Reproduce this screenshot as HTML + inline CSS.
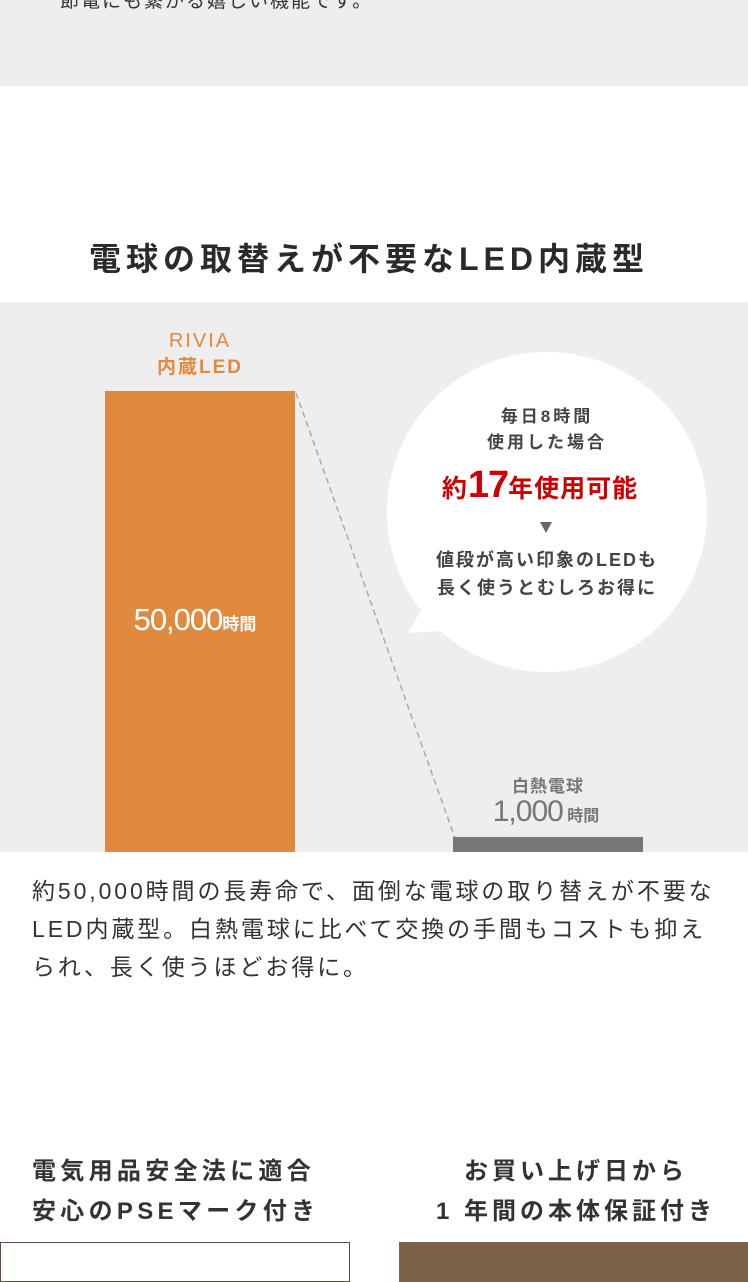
<!DOCTYPE html>
<html><head><meta charset="utf-8"><style>
*{margin:0;padding:0;box-sizing:border-box}
body{width:748px;height:1280px;position:relative;background:#fff;font-family:"Liberation Sans","Noto Sans CJK JP",sans-serif;color:#333;overflow:hidden}
.a{position:absolute;white-space:nowrap}
</style></head><body>
<div class="a" style="left:0;top:0;width:748px;height:86px;background:#eee"></div>
<div class="a" style="left:60px;top:-14px;font-size:19px;color:#333;letter-spacing:2px">節電にも繋がる嬉しい機能です。</div>
<div class="a" style="left:0;top:234px;width:738px;text-align:center;font-size:32px;font-weight:bold;letter-spacing:5px;color:#2a2a2a">電球の取替えが不要なLED内蔵型</div>
<div class="a" style="left:0;top:302px;width:748px;height:550px;background:#eee"></div>
<div class="a" style="left:105px;top:328px;width:190px;text-align:center;font-size:20px;color:#e08a40;letter-spacing:2px;line-height:26px">RIVIA<br><b style="font-size:19px">内蔵LED</b></div>
<div class="a" style="left:105px;top:391px;width:190px;height:461px;background:#e08a40"></div>
<div class="a" style="left:100px;top:602px;width:190px;text-align:center;color:#fff;font-size:31px;letter-spacing:-1px">50,000<span style="font-size:17px;font-weight:bold;letter-spacing:0">時間</span></div>
<svg class="a" style="left:0;top:0" width="748" height="1280"><line x1="296" y1="393" x2="455" y2="838" stroke="#aaa" stroke-width="1.5" stroke-dasharray="6,4"/>
<circle cx="547" cy="512" r="160" fill="#fff"/><polygon points="408,633 430,595 460,630" fill="#fff"/>
<polygon points="540,522 552,522 546,533" fill="#666"/></svg>
<div class="a" style="left:387px;top:404px;width:320px;text-align:center;font-size:17px;line-height:26px;font-weight:bold;color:#444;letter-spacing:3px">毎日8時間<br>使用した場合</div>
<div class="a" style="left:380px;top:464px;width:320px;text-align:center;font-size:25px;font-weight:bold;color:#c00;letter-spacing:1px">約<span style="font-size:38px;letter-spacing:-1px">17</span>年使用可能</div>
<div class="a" style="left:387px;top:546px;width:320px;text-align:center;font-size:18px;line-height:28px;font-weight:bold;color:#444;letter-spacing:2px">値段が高い印象のLEDも<br>長く使うとむしろお得に</div>
<div class="a" style="left:453px;top:772px;width:190px;text-align:center;font-size:17px;font-weight:bold;color:#777;letter-spacing:1px">白熱電球</div>
<div class="a" style="left:451px;top:795px;width:190px;text-align:center;font-size:30px;color:#777;letter-spacing:-1px">1,000<span style="font-size:16px;font-weight:bold;letter-spacing:0"> 時間</span></div>
<div class="a" style="left:453px;top:837px;width:190px;height:15px;background:#777"></div>
<div class="a" style="left:32px;top:872px;font-size:23px;line-height:38px;color:#333;letter-spacing:2.9px">約50,000時間の長寿命で、面倒な電球の取り替えが不要な<br>LED内蔵型。白熱電球に比べて交換の手間もコストも抑え<br>られ、長く使うほどお得に。</div>
<div class="a" style="left:32px;top:1152px;font-size:24px;font-weight:bold;line-height:40px;letter-spacing:4.3px;color:#333">電気用品安全法に適合<br>安心のPSEマーク付き</div>
<div class="a" style="left:400px;top:1152px;width:352px;text-align:center;font-size:24px;font-weight:bold;line-height:40px;letter-spacing:4px;color:#333">お買い上げ日から<br>1 年間の本体保証付き</div>
<div class="a" style="left:0;top:1242px;width:350px;height:40px;border:1px solid #6b4a3a"></div>
<div class="a" style="left:399px;top:1242px;width:349px;height:40px;background:#7d6249"></div>
</body></html>
